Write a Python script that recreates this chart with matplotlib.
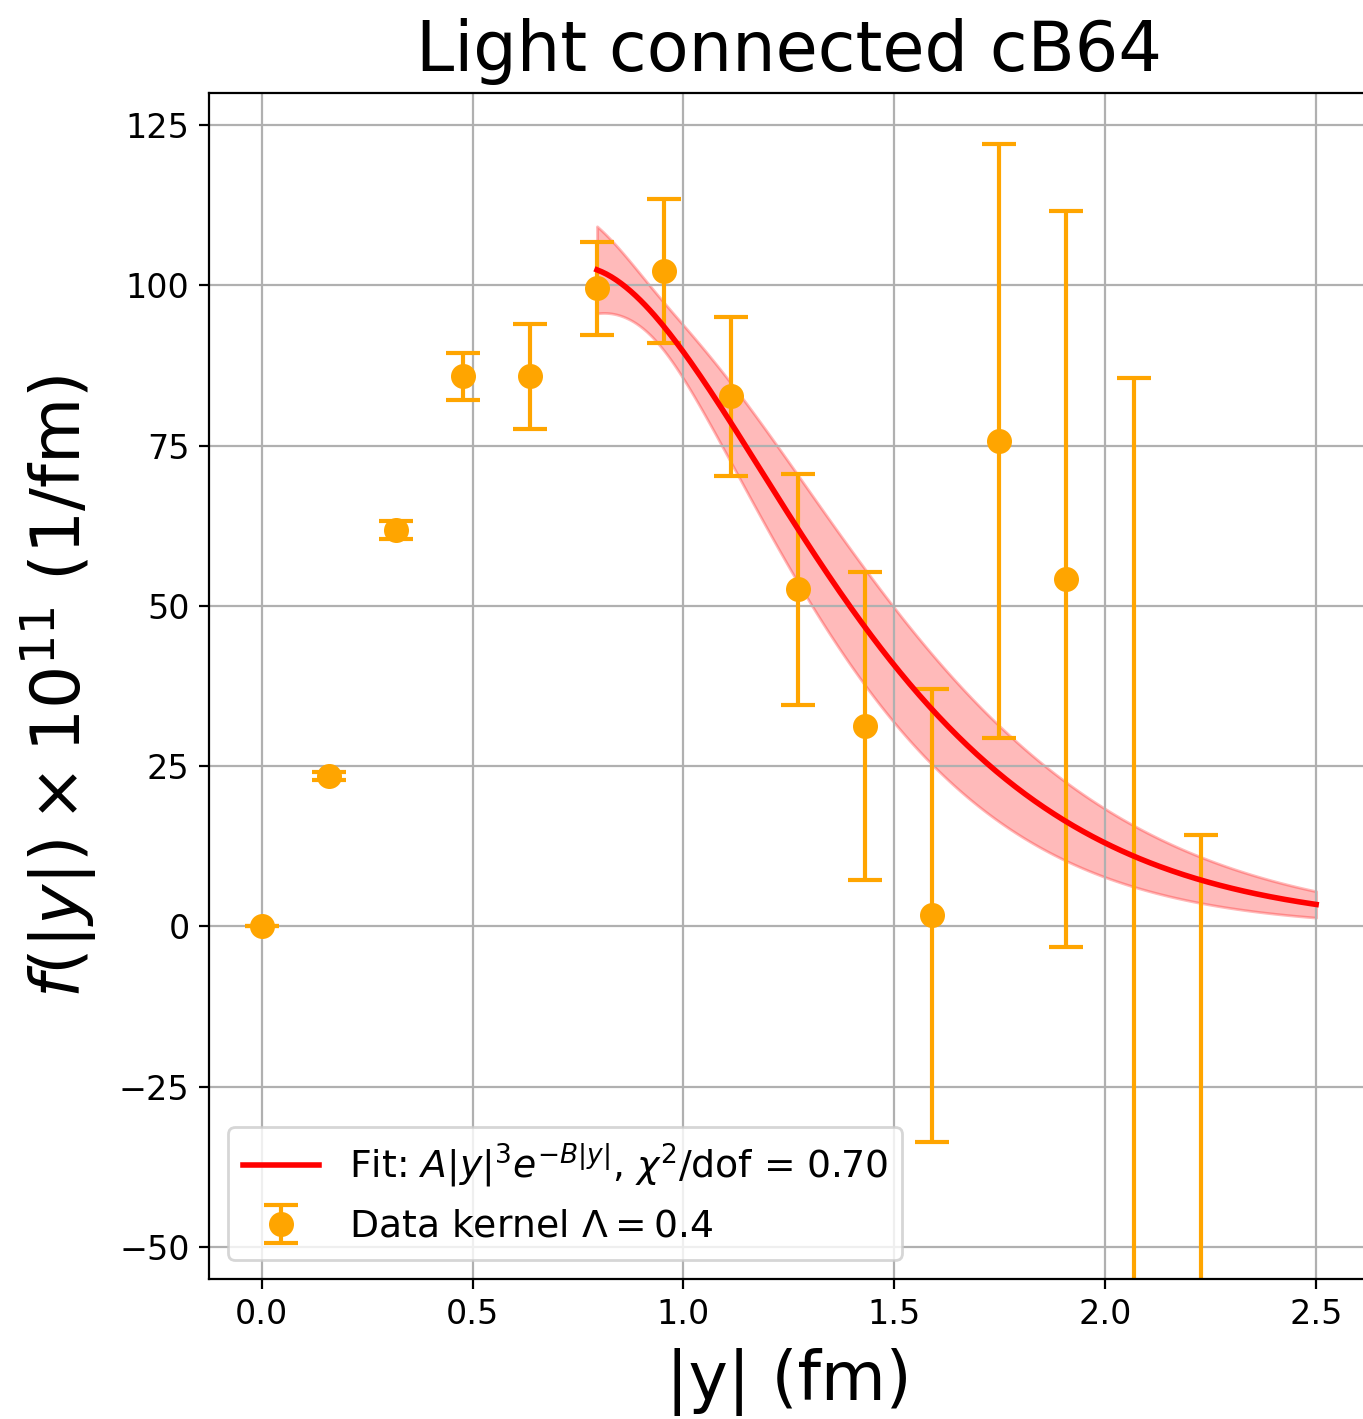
import numpy as np
import matplotlib
matplotlib.use("Agg")
import matplotlib.pyplot as plt

# data (|y| in fm, f * 1e11)
y_pos = [0.0, 0.159, 0.318, 0.477, 0.636, 0.795, 0.954, 1.113,
         1.272, 1.431, 1.59, 1.749, 1.908, 2.067, 2.226]
f_val = [0.0, 23.5, 61.8, 85.8, 85.8, 99.5, 102.2, 82.7,
         52.6, 31.2, 1.7, 75.7, 54.2, -62.0, -60.0]
f_err = [0.0, 0.6, 1.4, 3.7, 8.2, 7.2, 11.2, 12.4,
         18.0, 24.0, 35.4, 46.3, 57.4, 147.5, 74.2]

# fit A |y|^3 exp(-B |y|) and its parameter uncertainties
fit_A = 4940.0
fit_B = 4.01
fit_A_rel_err = 0.36
fit_B_err = 0.383
fit_corr = 0.994
fit_range = (0.795, 2.5)
chi2_dof = 0.70


def fit_curve(x):
    f = fit_A * x**3 * np.exp(-fit_B * x)
    rel = np.sqrt(fit_A_rel_err**2 + (x * fit_B_err)**2
                  - 2 * x * fit_corr * fit_A_rel_err * fit_B_err)
    return f, f * rel


def main():
    fig = plt.figure(figsize=(6.815, 7.095), dpi=200)
    ax = fig.add_axes([0.1533, 0.0987, 0.851, 0.8358])

    xs = np.linspace(fit_range[0], fit_range[1], 300)
    f, df = fit_curve(xs)
    ax.fill_between(xs, f - df, f + df, color='red', alpha=0.27, zorder=1)
    ax.plot(xs, f, color='red', lw=2,
            label=r'Fit: $A|y|^3e^{-B|y|}$, $\chi^2$/dof = %.2f' % chi2_dof,
            zorder=3)
    ax.errorbar(y_pos, f_val, yerr=f_err, fmt='o', color='orange', ms=8,
                capsize=6, elinewidth=1.5, capthick=1.5,
                label=r'Data kernel $\Lambda = 0.4$', zorder=2)

    ax.set_xlim(-0.125, 2.625)
    ax.set_ylim(-55, 130)
    ax.set_xticks([0.0, 0.5, 1.0, 1.5, 2.0, 2.5])
    ax.set_yticks([-50, -25, 0, 25, 50, 75, 100, 125])
    ax.tick_params(labelsize=12)
    ax.grid(True)

    ax.set_title("Light connected cB64", fontsize=24.7, pad=8)
    ax.set_xlabel("|y| (fm)", fontsize=24, labelpad=6)
    ax.set_ylabel(r"$f(|y|) \times 10^{11}$ (1/fm)", fontsize=24.5, labelpad=7)
    ax.legend(loc='lower left', fontsize=13.6)

    fig.savefig("out.png", dpi=200)


if __name__ == "__main__":
    main()
